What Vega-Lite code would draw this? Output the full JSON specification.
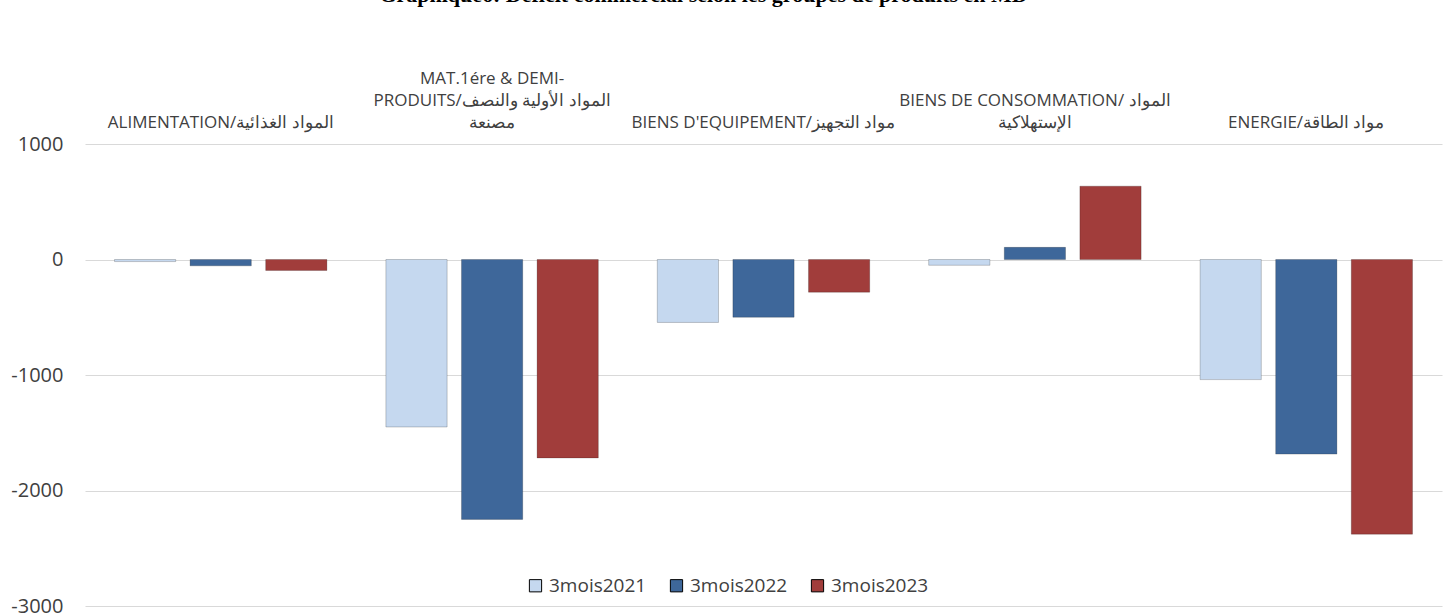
{
  "$schema": "https://vega.github.io/schema/vega-lite/v6.json",
  "autosize": {"type": "none"},
  "padding": {"left": 85, "right": 11, "top": 144, "bottom": 9},
  "width": 1357,
  "height": 462,
  "background": "white",
  "title": {
    "text": "Graphique6: Déficit commercial selon les groupes de produits en MD",
    "font": "Liberation Serif",
    "fontSize": 22,
    "fontWeight": "bold",
    "color": "#000000",
    "anchor": "middle",
    "frame": "group",
    "baseline": "alphabetic",
    "offset": 45,
    "dx": -60
  },
  "data": {
    "values": [
      {"cat": "\u200b|\u200b|ALIMENTATION/المواد الغذائية", "period": "3mois2021", "value": -18},
      {"cat": "\u200b|\u200b|ALIMENTATION/المواد الغذائية", "period": "3mois2022", "value": -55},
      {"cat": "\u200b|\u200b|ALIMENTATION/المواد الغذائية", "period": "3mois2023", "value": -95},
      {"cat": "MAT.1ére & DEMI-|PRODUITS/المواد الأولية والنصف|مصنعة", "period": "3mois2021", "value": -1450},
      {"cat": "MAT.1ére & DEMI-|PRODUITS/المواد الأولية والنصف|مصنعة", "period": "3mois2022", "value": -2250},
      {"cat": "MAT.1ére & DEMI-|PRODUITS/المواد الأولية والنصف|مصنعة", "period": "3mois2023", "value": -1718},
      {"cat": "\u200b|\u200b|BIENS D'EQUIPEMENT/مواد التجهيز", "period": "3mois2021", "value": -545},
      {"cat": "\u200b|\u200b|BIENS D'EQUIPEMENT/مواد التجهيز", "period": "3mois2022", "value": -500},
      {"cat": "\u200b|\u200b|BIENS D'EQUIPEMENT/مواد التجهيز", "period": "3mois2023", "value": -283},
      {"cat": "\u200b|BIENS DE CONSOMMATION/ المواد|الإستهلاكية", "period": "3mois2021", "value": -50},
      {"cat": "\u200b|BIENS DE CONSOMMATION/ المواد|الإستهلاكية", "period": "3mois2022", "value": 105},
      {"cat": "\u200b|BIENS DE CONSOMMATION/ المواد|الإستهلاكية", "period": "3mois2023", "value": 635},
      {"cat": "\u200b|\u200b|ENERGIE/مواد الطاقة", "period": "3mois2021", "value": -1040},
      {"cat": "\u200b|\u200b|ENERGIE/مواد الطاقة", "period": "3mois2022", "value": -1685},
      {"cat": "\u200b|\u200b|ENERGIE/مواد الطاقة", "period": "3mois2023", "value": -2378}
    ]
  },
  "mark": {"type": "bar", "stroke": "#000000", "strokeOpacity": 0.2, "strokeWidth": 1},
  "encoding": {
    "x": {
      "field": "cat",
      "type": "nominal",
      "sort": null,
      "title": null,
      "scale": {"paddingInner": 0, "paddingOuter": 0},
      "axis": {
        "orient": "top",
        "domain": false,
        "ticks": false,
        "grid": false,
        "labelAngle": 0,
        "labelAlign": "center",
        "labelBaseline": "bottom",
        "labelExpr": "split(datum.label, '|')",
        "labelLineHeight": 22,
        "labelPadding": 57,
        "labelLimit": 0,
        "labelOverlap": false,
        "labelFont": "Open Sans",
        "labelFontSize": 17,
        "labelColor": "#404040"
      }
    },
    "xOffset": {
      "field": "period",
      "type": "nominal",
      "scale": {"paddingInner": 0.19, "paddingOuter": 0.39}
    },
    "y": {
      "field": "value",
      "type": "quantitative",
      "title": null,
      "scale": {"domain": [-3000, 1000], "nice": false},
      "axis": {
        "values": [-3000, -2000, -1000, 0, 1000],
        "labelExpr": "datum.value < 0 ? '-' + abs(datum.value) : '' + datum.value",
        "domain": false,
        "ticks": false,
        "grid": true,
        "gridColor": "#d9d9d9",
        "gridWidth": 1,
        "labelPadding": 22,
        "labelFont": "Open Sans",
        "labelFontSize": 20,
        "labelColor": "#404040"
      }
    },
    "color": {
      "field": "period",
      "type": "nominal",
      "scale": {
        "domain": ["3mois2021", "3mois2022", "3mois2023"],
        "range": ["#c5d8ef", "#3e679a", "#a13d3b"]
      },
      "legend": {
        "title": null,
        "orient": "none",
        "direction": "horizontal",
        "legendX": 441,
        "legendY": 432,
        "symbolType": "square",
        "symbolSize": 150,
        "symbolStrokeWidth": 1,
        "labelFont": "Open Sans",
        "labelFontSize": 19,
        "labelColor": "#404040",
        "labelOffset": 4,
        "columnPadding": 20
      }
    }
  },
  "config": {
    "view": {"stroke": null}
  }
}
